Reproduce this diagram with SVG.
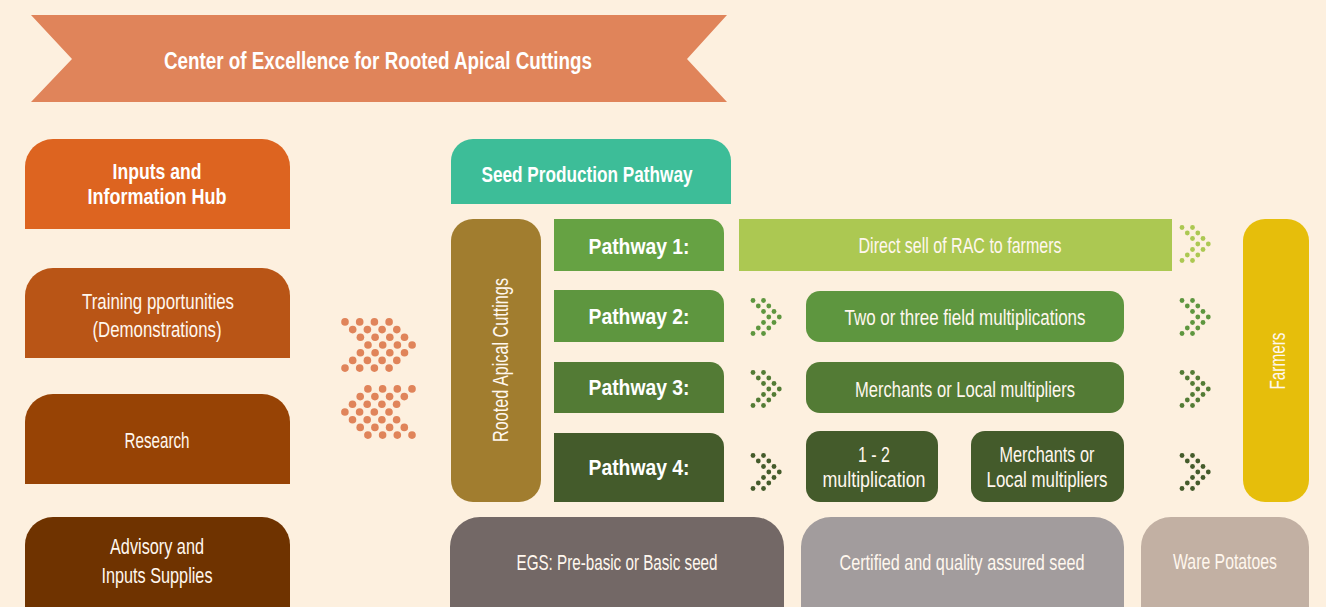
<svg xmlns="http://www.w3.org/2000/svg" xmlns:xlink="http://www.w3.org/1999/xlink" width="1326" height="607" viewBox="0 0 1326 607">
<style>
text{font-family:"Liberation Sans",Arial,sans-serif;fill:#ffffff;text-anchor:middle}
.b{font-weight:bold;font-size:22.5px}
.r{font-size:21.5px;fill:#FFF7EE}
</style>
<defs>
<g id="chS">
<circle cx="0" cy="-16.5" r="2.4"/><circle cx="10.5" cy="-16.5" r="2.4"/>
<circle cx="5.3" cy="-11" r="2.4"/><circle cx="15.8" cy="-11" r="2.4"/>
<circle cx="10.5" cy="-5.5" r="2.4"/><circle cx="21" cy="-5.5" r="2.4"/>
<circle cx="15.8" cy="0" r="2.4"/><circle cx="26.3" cy="0" r="2.4"/>
<circle cx="10.5" cy="5.5" r="2.4"/><circle cx="21" cy="5.5" r="2.4"/>
<circle cx="5.3" cy="11" r="2.4"/><circle cx="15.8" cy="11" r="2.4"/>
<circle cx="0" cy="16.5" r="2.4"/><circle cx="10.5" cy="16.5" r="2.4"/>
</g>
<g id="chB">
<circle cx="-33.5" cy="-23.1" r="3.8"/><circle cx="-18.8" cy="-23.1" r="3.8"/><circle cx="-4.1" cy="-23.1" r="3.8"/><circle cx="10.6" cy="-23.1" r="3.8"/>
<circle cx="-25.8" cy="-15.4" r="3.8"/><circle cx="-11.1" cy="-15.4" r="3.8"/><circle cx="3.6" cy="-15.4" r="3.8"/><circle cx="18.3" cy="-15.4" r="3.8"/>
<circle cx="-18.1" cy="-7.7" r="3.8"/><circle cx="-3.4" cy="-7.7" r="3.8"/><circle cx="11.3" cy="-7.7" r="3.8"/><circle cx="26" cy="-7.7" r="3.8"/>
<circle cx="-10.5" cy="0" r="3.8"/><circle cx="4.2" cy="0" r="3.8"/><circle cx="18.9" cy="0" r="3.8"/><circle cx="33.6" cy="0" r="3.8"/>
<circle cx="-18.1" cy="7.7" r="3.8"/><circle cx="-3.4" cy="7.7" r="3.8"/><circle cx="11.3" cy="7.7" r="3.8"/><circle cx="26" cy="7.7" r="3.8"/>
<circle cx="-25.8" cy="15.4" r="3.8"/><circle cx="-11.1" cy="15.4" r="3.8"/><circle cx="3.6" cy="15.4" r="3.8"/><circle cx="18.3" cy="15.4" r="3.8"/>
<circle cx="-33.5" cy="23.1" r="3.8"/><circle cx="-18.8" cy="23.1" r="3.8"/><circle cx="-4.1" cy="23.1" r="3.8"/><circle cx="10.6" cy="23.1" r="3.8"/>
</g>
</defs>
<rect x="0" y="0" width="1326" height="607" fill="#FDF0DF"/>

<g id="banner">
<polygon points="31,15 727,15 687,59 727,102 31,102 72,59" fill="#E0845A"/>
<text x="378" y="69" class="b" style="font-size:23.5px" textLength="428" lengthAdjust="spacingAndGlyphs">Center of Excellence for Rooted Apical Cuttings</text>
</g>

<g id="inputs-hub">
<path d="M25 229 V167 A28 28 0 0 1 53 139 H262 A28 28 0 0 1 290 167 V229 Z" fill="#DD6420"/>
<text x="157" y="179" class="b" textLength="89" lengthAdjust="spacingAndGlyphs">Inputs and</text>
<text x="157" y="204" class="b" textLength="139" lengthAdjust="spacingAndGlyphs">Information Hub</text>
</g>
<g id="training">
<path d="M25 358 V296 A28 28 0 0 1 53 268 H262 A28 28 0 0 1 290 296 V358 Z" fill="#B95516"/>
<text x="158" y="309" class="r" textLength="152" lengthAdjust="spacingAndGlyphs">Training pportunities</text>
<text x="157" y="337" class="r" textLength="129" lengthAdjust="spacingAndGlyphs">(Demonstrations)</text>
</g>
<g id="research">
<path d="M25 484 V422 A28 28 0 0 1 53 394 H262 A28 28 0 0 1 290 422 V484 Z" fill="#974305"/>
<text x="157" y="448" class="r" textLength="65" lengthAdjust="spacingAndGlyphs">Research</text>
</g>
<g id="advisory">
<path d="M25 612 V545 A28 28 0 0 1 53 517 H262 A28 28 0 0 1 290 545 V612 Z" fill="#6F3300"/>
<text x="157" y="554" class="r" textLength="94" lengthAdjust="spacingAndGlyphs">Advisory and</text>
<text x="157" y="583" class="r" textLength="111" lengthAdjust="spacingAndGlyphs">Inputs Supplies</text>
</g>

<g id="seed-production-pathway">
<path d="M451 204 V161 A22 22 0 0 1 473 139 H709 A22 22 0 0 1 731 161 V204 Z" fill="#3DBD98"/>
<text x="587" y="182" class="b" textLength="211" lengthAdjust="spacingAndGlyphs">Seed Production Pathway</text>
</g>

<g id="rooted-apical-cuttings">
<rect x="451" y="219" width="90" height="283" rx="22" fill="#A17D2F"/>
<text transform="translate(508,360) rotate(-90)" x="0" y="0" class="r" textLength="164" lengthAdjust="spacingAndGlyphs">Rooted Apical Cuttings</text>
</g>

<g id="pathway-1">
<path d="M554 271 V219 H710 A14 14 0 0 1 724 233 V271 Z" fill="#66A243"/>
<text x="639" y="254" class="b" textLength="101" lengthAdjust="spacingAndGlyphs">Pathway 1:</text>
</g>
<g id="pathway-2">
<path d="M554 342 V290 H710 A14 14 0 0 1 724 304 V342 Z" fill="#5E963F"/>
<text x="639" y="324" class="b" textLength="101" lengthAdjust="spacingAndGlyphs">Pathway 2:</text>
</g>
<g id="pathway-3">
<path d="M554 413 V362 H710 A14 14 0 0 1 724 376 V413 Z" fill="#537B35"/>
<text x="639" y="395" class="b" textLength="101" lengthAdjust="spacingAndGlyphs">Pathway 3:</text>
</g>
<g id="pathway-4">
<path d="M554 502 V433 H710 A14 14 0 0 1 724 447 V502 Z" fill="#445B2B"/>
<text x="639" y="475" class="b" textLength="101" lengthAdjust="spacingAndGlyphs">Pathway 4:</text>
</g>

<g id="direct-sell">
<rect x="739" y="219" width="433" height="52" fill="#ACC852"/>
<text x="960" y="253" class="r" textLength="203" lengthAdjust="spacingAndGlyphs">Direct sell of RAC to farmers</text>
</g>
<g id="field-multiplications">
<rect x="806" y="291" width="318" height="51" rx="14" fill="#5E963F"/>
<text x="965" y="325" class="r" textLength="241" lengthAdjust="spacingAndGlyphs">Two or three field multiplications</text>
</g>
<g id="merchants-3">
<rect x="806" y="362" width="318" height="51" rx="14" fill="#537B35"/>
<text x="965" y="397" class="r" textLength="220" lengthAdjust="spacingAndGlyphs">Merchants or Local multipliers</text>
</g>
<g id="multiplication-4">
<rect x="806" y="431" width="132" height="71" rx="14" fill="#445B2B"/>
<text x="874" y="462" class="r" textLength="32" lengthAdjust="spacingAndGlyphs">1 - 2</text>
<text x="874" y="487" class="r" textLength="103" lengthAdjust="spacingAndGlyphs">multiplication</text>
</g>
<g id="merchants-4">
<rect x="971" y="431" width="153" height="71" rx="14" fill="#445B2B"/>
<text x="1047" y="462" class="r" textLength="95" lengthAdjust="spacingAndGlyphs">Merchants or</text>
<text x="1047" y="487" class="r" textLength="121" lengthAdjust="spacingAndGlyphs">Local multipliers</text>
</g>

<g id="farmers">
<rect x="1243" y="219" width="66" height="283" rx="22" fill="#E6BE0B"/>
<text transform="translate(1285,361) rotate(-90)" x="0" y="0" class="r" textLength="57" lengthAdjust="spacingAndGlyphs">Farmers</text>
</g>

<g id="egs">
<path d="M450 612 V547 A30 30 0 0 1 480 517 H754 A30 30 0 0 1 784 547 V612 Z" fill="#736866"/>
<text x="617" y="570" class="r" textLength="201" lengthAdjust="spacingAndGlyphs">EGS: Pre-basic or Basic seed</text>
</g>
<g id="certified">
<path d="M801 612 V547 A30 30 0 0 1 831 517 H1094 A30 30 0 0 1 1124 547 V612 Z" fill="#A29C9D"/>
<text x="962" y="570" class="r" textLength="245" lengthAdjust="spacingAndGlyphs">Certified and quality assured seed</text>
</g>
<g id="ware-potatoes">
<path d="M1141 612 V547 A30 30 0 0 1 1171 517 H1279 A30 30 0 0 1 1309 547 V612 Z" fill="#C2B0A3"/>
<text x="1225" y="569" class="r" textLength="104" lengthAdjust="spacingAndGlyphs">Ware Potatoes</text>
</g>

<g id="connectors">
<use xlink:href="#chB" transform="translate(378.5,345)" fill="#E0845A"/>
<use xlink:href="#chB" transform="translate(378.5,412) scale(-1,1)" fill="#E0845A"/>
<use xlink:href="#chS" transform="translate(1182,244)" fill="#ACC852"/>
<use xlink:href="#chS" transform="translate(753,317)" fill="#5E963F"/>
<use xlink:href="#chS" transform="translate(1182,317)" fill="#5E963F"/>
<use xlink:href="#chS" transform="translate(753,389)" fill="#537B35"/>
<use xlink:href="#chS" transform="translate(1182,389)" fill="#537B35"/>
<use xlink:href="#chS" transform="translate(753,472)" fill="#445B2B"/>
<use xlink:href="#chS" transform="translate(1182,472)" fill="#445B2B"/>
</g>
</svg>
